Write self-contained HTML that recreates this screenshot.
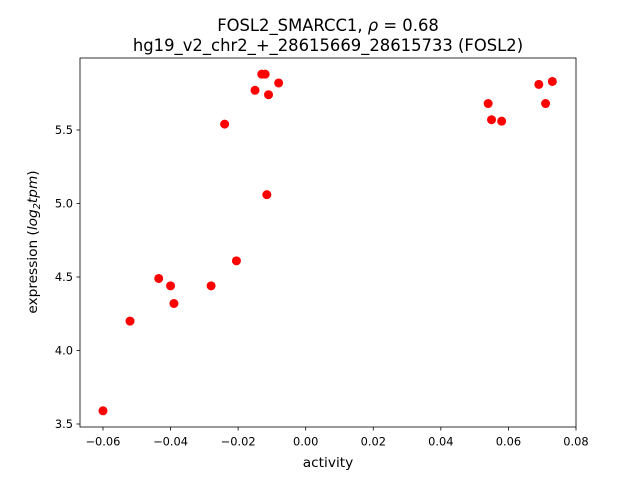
<!DOCTYPE html>
<html><head><meta charset="utf-8"><style>
body{margin:0;background:#fff}
svg text{font-family:"DejaVu Sans","Liberation Sans",sans-serif;fill:#000}
</style></head><body>
<svg id="chart" width="640" height="480" xmlns="http://www.w3.org/2000/svg">
<rect width="640" height="480" fill="#fff"/>
<text x="328" y="31" font-size="16.4" text-anchor="middle">FOSL2_SMARCC1, <tspan font-style="italic">ρ</tspan> = 0.68</text>
<text x="328" y="51" font-size="16.4" text-anchor="middle">hg19_v2_chr2_+_28615669_28615733 (FOSL2)</text>
<g id="xt"></g>
<g id="yt"></g>
<g id="pts"></g>
<rect x="80" y="58" width="496" height="369" fill="none" stroke="#000" stroke-width="0.8"/>
<text x="328" y="467" font-size="13.7" text-anchor="middle">activity</text>
<text transform="translate(37,242) rotate(-90)" font-size="13.7" text-anchor="middle">expression (<tspan font-style="italic">log</tspan><tspan font-size="9.7" dy="3" font-style="italic">2</tspan><tspan dy="-3" font-style="italic">tpm</tspan>)</text>
</svg>
<script>
const xs=[-0.060,-0.052,-0.0435,-0.040,-0.039,-0.028,-0.0205,-0.024,-0.015,-0.013,-0.012,-0.011,-0.0115,-0.008,0.054,0.055,0.058,0.069,0.071,0.073];
const ys=[3.59,4.20,4.49,4.44,4.32,4.44,4.61,5.54,5.77,5.88,5.88,5.74,5.06,5.82,5.68,5.57,5.56,5.81,5.68,5.83];
const xTicks=[-0.06,-0.04,-0.02,0.00,0.02,0.04,0.06,0.08];
const xLabels=["−0.06","−0.04","−0.02","0.00","0.02","0.04","0.06","0.08"];
const yTicks=[3.5,4.0,4.5,5.0,5.5];
const yLabels=["3.5","4.0","4.5","5.0","5.5"];
const NS="http://www.w3.org/2000/svg";
const X=v=>305.7+v*3378.6, Y=v=>424-(v-3.5)*147;
function mk(t,a,p){const e=document.createElementNS(NS,t);for(const k in a)e.setAttribute(k,a[k]);p.appendChild(e);return e;}
const xt=document.getElementById('xt'),yt=document.getElementById('yt'),pts=document.getElementById('pts');
xTicks.forEach((v,i)=>{
 const l=mk('line',{x1:X(v),x2:X(v),y1:427,y2:430.5,stroke:'#000','stroke-width':0.8},xt);
 
 
 const t=mk('text',{x:X(v),y:445.5,'font-size':11.4,'text-anchor':'middle'},xt);t.textContent=xLabels[i];
 
 
});
yTicks.forEach((v,i)=>{
 const l=mk('line',{x1:76.5,x2:80,y1:Y(v),y2:Y(v),stroke:'#000','stroke-width':0.8},yt);
 
 
 const t=mk('text',{x:73,y:Y(v)+4,'font-size':11.4,'text-anchor':'end'},yt);t.textContent=yLabels[i];
 
 
});
xs.forEach((v,i)=>{
 const c=mk('circle',{cx:X(v),cy:Y(ys[i]),r:4.5,fill:'#ff0000'},pts);
 
 
});
</script>
</body></html>
